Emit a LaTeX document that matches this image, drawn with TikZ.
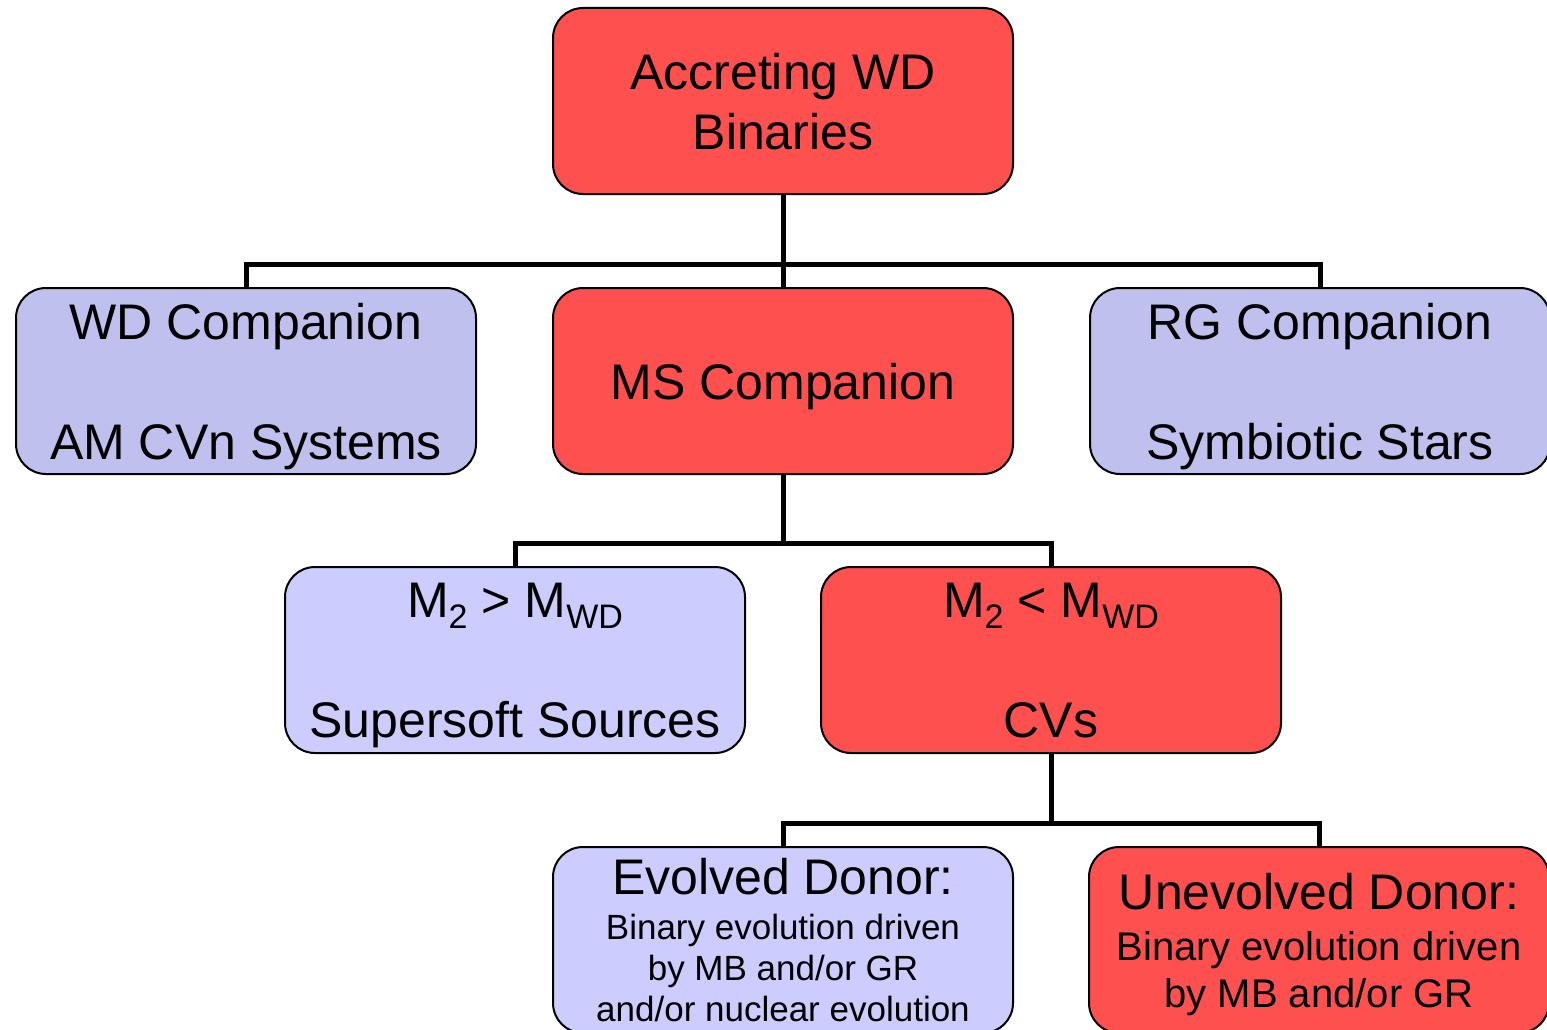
\documentclass[tikz,border=0pt]{standalone}
\usepackage{fontspec}
\setmainfont{Liberation Sans}
\definecolor{boxred}{HTML}{FF5050}
\definecolor{boxblueA}{HTML}{C0C0EE}
\definecolor{boxblueB}{HTML}{CCCCFF}
\newcommand{\subtxt}[1]{\raisebox{-11pt}{\fontsize{34}{34}\selectfont #1}}
\begin{document}
\begin{tikzpicture}[x=1pt,y=-1pt,
  box/.style={draw=black, line width=2pt, rounded corners=30pt, rectangle,
    minimum width=460pt, minimum height=186pt, inner sep=0pt, align=center,
    text depth=0pt, font=\fontsize{50}{60}\selectfont},
  redbox/.style={box, fill=boxred},
  blueA/.style={box, fill=boxblueA},
  blueB/.style={box, fill=boxblueB},
  conn/.style={line width=5pt}]
\useasboundingbox (0,0) rectangle (1547,1030);
\begin{scope}
\clip (0,0) rectangle (1547,1030);
% level 1
\node[redbox] (top) at (783,101) {Accreting WD\\Binaries};
% level 2
\node[blueA] (wd) at (246,381) {WD Companion\\[60pt]AM CVn Systems};
\node[redbox] (ms) at (783,381) {MS Companion};
\node[blueA] (rg) at (1320,381) {RG Companion\\[60pt]Symbiotic Stars};
% level 3
\node[blueB] (mgt) at (515,660) {M\subtxt{2} > M\subtxt{WD}\\[60pt]Supersoft Sources};
\node[redbox] (mlt) at (1051,660) {M\subtxt{2} < M\subtxt{WD}\\[60pt]CVs};
% level 4
\node[blueB, font=\fontsize{35}{41}\selectfont] (evo) at (783,940)
  {{\fontsize{50}{60}\selectfont Evolved Donor:}\\[4pt]Binary evolution driven\\by MB and/or GR\\and/or nuclear evolution};
\node[redbox, font=\fontsize{40}{47}\selectfont] (unevo) at (1319,940)
  {{\fontsize{50}{60}\selectfont Unevolved Donor:}\\[4pt]Binary evolution driven\\by MB and/or GR};
% junctions
\coordinate (j1) at (783,264);
\coordinate (j2) at (783,543);
\coordinate (j3) at (1051,823);
% connectors
\draw[conn] (top.south) -- (j1);
\draw[conn] (wd.north) |- (j1) -| (rg.north);
\draw[conn] (j1) -- (ms.north);
\draw[conn] (ms.south) -- (j2);
\draw[conn] (mgt.north) |- (j2) -| (mlt.north);
\draw[conn] (mlt.south) -- (j3);
\draw[conn] (evo.north) |- (j3) -| (unevo.north);
\end{scope}
\end{tikzpicture}
\end{document}
